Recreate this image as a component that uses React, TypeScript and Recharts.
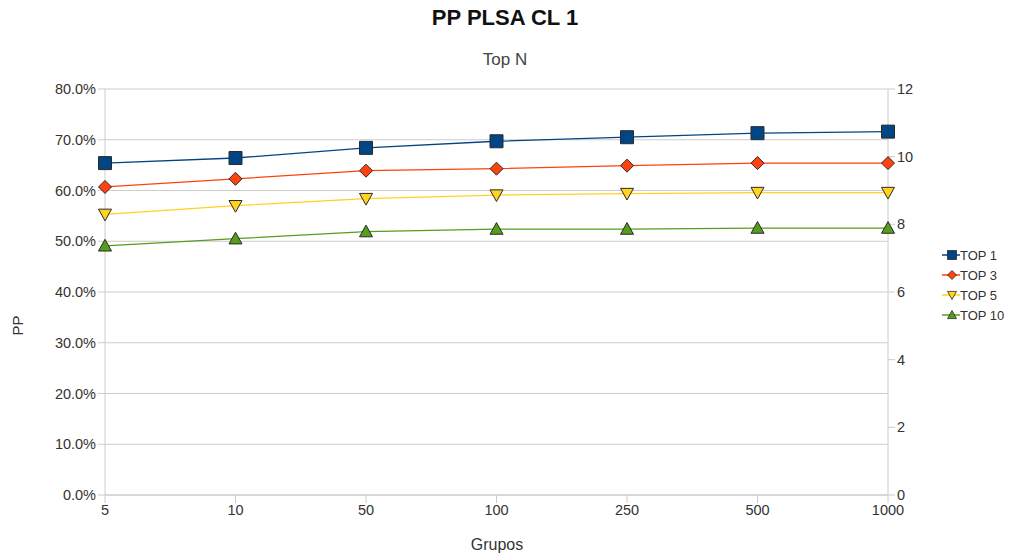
import { CartesianGrid, Line, LineChart, XAxis, YAxis } from "recharts";

const grupos = ["5", "10", "50", "100", "250", "500", "1000"];
const top1 = [0.654, 0.664, 0.684, 0.697, 0.705, 0.713, 0.716];
const top3 = [0.607, 0.623, 0.639, 0.643, 0.649, 0.654, 0.654];
const top5 = [0.553, 0.57, 0.584, 0.591, 0.594, 0.596, 0.596];
const top10 = [0.491, 0.505, 0.519, 0.524, 0.524, 0.526, 0.526];
const leftTicks = [0, 0.1, 0.2, 0.3, 0.4, 0.5, 0.6, 0.7, 0.8];
const rightTicks = [0, 2, 4, 6, 8, 10, 12];

const data = grupos.map((g, i) => ({
  g,
  top1: top1[i],
  top3: top3[i],
  top5: top5[i],
  top10: top10[i],
}));

const font = "'Liberation Sans', Arial, sans-serif";
const edge = "#2a2a2a";

type Kind = "square" | "diamond" | "down" | "up";

function markerPath(kind: Kind, cx: number, cy: number, r: number) {
  if (kind === "square") return `M${cx - r},${cy - r}h${2 * r}v${2 * r}h${-2 * r}Z`;
  if (kind === "diamond") return `M${cx},${cy - r}L${cx + r},${cy}L${cx},${cy + r}L${cx - r},${cy}Z`;
  if (kind === "down") return `M${cx - r},${cy - r * 0.8}L${cx + r},${cy - r * 0.8}L${cx},${cy + r}Z`;
  return `M${cx - r},${cy + r * 0.8}L${cx + r},${cy + r * 0.8}L${cx},${cy - r}Z`;
}

const series: { key: string; name: string; color: string; kind: Kind }[] = [
  { key: "top1", name: "TOP 1", color: "#004586", kind: "square" },
  { key: "top3", name: "TOP 3", color: "#ff420e", kind: "diamond" },
  { key: "top5", name: "TOP 5", color: "#ffd320", kind: "down" },
  { key: "top10", name: "TOP 10", color: "#579d1c", kind: "up" },
];

function makeDot(kind: Kind, color: string) {
  return (props: any) => {
    const { cx, cy, index } = props;
    if (cx == null || cy == null) return <g key={index} />;
    return (
      <path
        key={index}
        d={markerPath(kind, cx, cy, 6.5)}
        fill={color}
        stroke={edge}
        strokeWidth={1}
      />
    );
  };
}

function LegendBox() {
  return (
    <div
      style={{
        position: "absolute",
        left: 942,
        top: 245,
        width: 68,
        whiteSpace: "nowrap",
        fontFamily: font,
        fontSize: 13,
        color: "#333",
      }}
    >
      {series.map((s) => (
        <div key={s.key} style={{ display: "flex", alignItems: "center", height: 20 }}>
          <svg width={18} height={12} style={{ flex: "none" }}>
            <line x1={0} y1={6} x2={18} y2={6} stroke={s.color} strokeWidth={1.5} />
            <path d={markerPath(s.kind, 10, 6, 4.5)} fill={s.color} stroke={edge} strokeWidth={0.8} />
          </svg>
          <span>{s.name}</span>
        </div>
      ))}
    </div>
  );
}

export default function App() {
  const tickStyle = { fontFamily: font, fontSize: 14.5, fill: "#333" };
  return (
    <div style={{ position: "absolute", left: 0, top: 0, width: 1010, height: 560, background: "#fff", overflow: "hidden" }}>
      <LineChart
        width={1010}
        height={560}
        data={data}
        margin={{ top: 89, right: 82, bottom: 35, left: 35 }}
        style={{ position: "absolute", left: 0, top: 0 }}
      >
        <CartesianGrid vertical={false} stroke="#cccccc" yAxisId="left" />
        <XAxis
          dataKey="g"
          tick={tickStyle}
          tickLine={{ stroke: "#cccccc" }}
          axisLine={{ stroke: "#cccccc" }}
          tickSize={8}
          height={30}
        />
        <YAxis
          yAxisId="left"
          domain={[0, 0.8]}
          ticks={leftTicks}
          tickFormatter={(v: number) => `${(v * 100).toFixed(1)}%`}
          tick={tickStyle}
          tickLine={{ stroke: "#cccccc" }}
          axisLine={{ stroke: "#cccccc" }}
          tickSize={7}
          width={70}
        />
        <YAxis
          yAxisId="right"
          orientation="right"
          domain={[0, 12]}
          ticks={rightTicks}
          allowDataOverflow
          tick={tickStyle}
          tickLine={{ stroke: "#cccccc" }}
          axisLine={{ stroke: "#cccccc" }}
          tickSize={7}
          width={40}
        />
        {series.map((s) => (
          <Line
            key={s.key}
            yAxisId="left"
            dataKey={s.key}
            name={s.name}
            stroke={s.color}
            strokeWidth={1.3}
            dot={makeDot(s.kind, s.color)}
            activeDot={false}
            isAnimationActive={false}
          />
        ))}
        {/* empty series so the secondary axis gets drawn */}
        <Line
          yAxisId="right"
          dataKey="secondary"
          stroke="none"
          dot={false}
          activeDot={false}
          legendType="none"
          isAnimationActive={false}
        />
      </LineChart>
      <div style={{ position: "absolute", top: 5, width: 1010, textAlign: "center", fontFamily: font, fontSize: 22, fontWeight: "bold", color: "#111" }}>
        PP PLSA CL 1
      </div>
      <div style={{ position: "absolute", top: 50, width: 1010, textAlign: "center", fontFamily: font, fontSize: 17, color: "#444" }}>
        Top N
      </div>
      <div style={{ position: "absolute", left: 7, top: 317, transform: "rotate(-90deg)", fontFamily: font, fontSize: 15, color: "#333" }}>
        PP
      </div>
      <div style={{ position: "absolute", top: 536, width: 1010, left: -8, textAlign: "center", fontFamily: font, fontSize: 16, color: "#333" }}>
        Grupos
      </div>
      <LegendBox />
    </div>
  );
}
